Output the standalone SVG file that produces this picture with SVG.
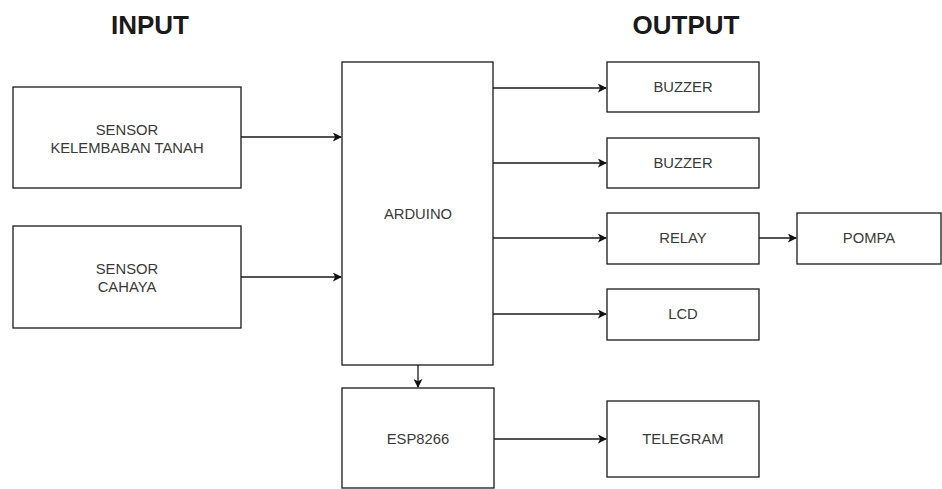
<svg xmlns="http://www.w3.org/2000/svg" width="942" height="489" viewBox="0 0 942 489">
<style>
.box{fill:#fff;stroke:#1a1a1a;stroke-width:1.3}
.lbl{font-family:"Liberation Sans",Arial,sans-serif;font-size:14.8px;fill:#3a3a3a;text-anchor:middle}
.ttl{font-family:"Liberation Sans",Arial,sans-serif;font-size:26px;font-weight:bold;fill:#1a1a1a;text-anchor:middle}
.con{fill:none;stroke:#1a1a1a;stroke-width:1.3}
</style>
<defs>
<marker id="ah" viewBox="0 0 10 10" refX="9" refY="5" markerWidth="9" markerHeight="9" markerUnits="userSpaceOnUse" orient="auto">
<path d="M0,0 L10,5 L0,10 L2.5,5 Z" fill="#111"/>
</marker>
</defs>
<rect width="942" height="489" fill="#fff"/>
<text class="ttl" x="150" y="34">INPUT</text>
<text class="ttl" x="686" y="34">OUTPUT</text>
<g id="sensor-tanah"><rect class="box" x="13" y="87" width="228" height="101"/><text class="lbl" x="127" y="135">SENSOR</text><text class="lbl" x="127" y="153">KELEMBABAN TANAH</text></g>
<g id="sensor-cahaya"><rect class="box" x="13" y="226" width="228" height="102"/><text class="lbl" x="127" y="274">SENSOR</text><text class="lbl" x="127" y="292">CAHAYA</text></g>
<g id="arduino"><rect class="box" x="342" y="62" width="151" height="303"/><text class="lbl" x="418" y="219">ARDUINO</text></g>
<g id="esp"><rect class="box" x="342" y="388" width="152" height="100"/><text class="lbl" x="418" y="444">ESP8266</text></g>
<g id="buzzer1"><rect class="box" x="607" y="62" width="152" height="50"/><text class="lbl" x="683" y="92">BUZZER</text></g>
<g id="buzzer2"><rect class="box" x="607" y="138" width="152" height="50"/><text class="lbl" x="683" y="168">BUZZER</text></g>
<g id="relay"><rect class="box" x="607" y="213" width="152" height="51"/><text class="lbl" x="683" y="243">RELAY</text></g>
<g id="pompa"><rect class="box" x="797" y="213" width="144" height="51"/><text class="lbl" x="869" y="243">POMPA</text></g>
<g id="lcd"><rect class="box" x="607" y="289" width="152" height="51"/><text class="lbl" x="683" y="319">LCD</text></g>
<g id="telegram"><rect class="box" x="607" y="401" width="152" height="76"/><text class="lbl" x="683" y="444">TELEGRAM</text></g>
<g id="connectors">
<path class="con" d="M241,137 H341" marker-end="url(#ah)"/>
<path class="con" d="M241,277 H341" marker-end="url(#ah)"/>
<path class="con" d="M493,88 H606" marker-end="url(#ah)"/>
<path class="con" d="M493,163 H606" marker-end="url(#ah)"/>
<path class="con" d="M493,238 H606" marker-end="url(#ah)"/>
<path class="con" d="M493,314 H606" marker-end="url(#ah)"/>
<path class="con" d="M759,238 H796" marker-end="url(#ah)"/>
<path class="con" d="M418,365 V387" marker-end="url(#ah)"/>
<path class="con" d="M494,439 H606" marker-end="url(#ah)"/>
</g>
</svg>
